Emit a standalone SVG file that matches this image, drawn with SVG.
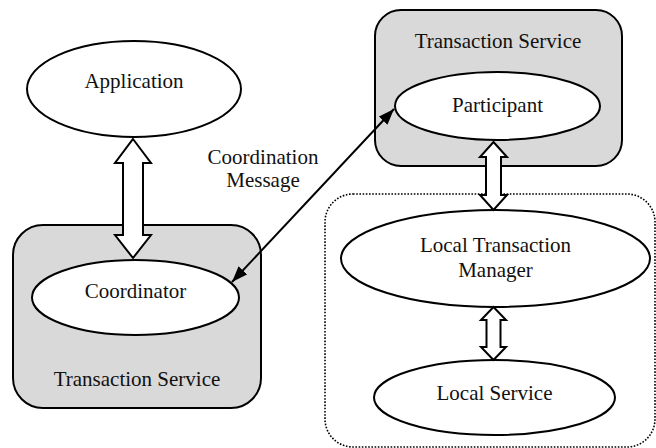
<svg xmlns="http://www.w3.org/2000/svg" width="656" height="448" viewBox="0 0 656 448">
<defs>
<style>
.box{fill:#d9d9d9;stroke:#000;stroke-width:2}
.ell{fill:#fff;stroke:#000;stroke-width:2}
.dbl{fill:#fff;stroke:#000;stroke-width:2;stroke-linejoin:miter}
.dot{fill:none;stroke:#000;stroke-width:1.6;stroke-dasharray:1.6 1.6}
.lbl{font-family:'Liberation Serif','Tinos','Times New Roman','DejaVu Serif',serif;font-size:21px;fill:#111;text-anchor:middle}
.conn{stroke:#000;stroke-width:2;fill:none}
</style>
<marker id="ah" viewBox="0 0 16 12" refX="16" refY="6" markerWidth="16" markerHeight="12" markerUnits="userSpaceOnUse" orient="auto-start-reverse">
<path d="M0,0 L16,6 L0,12 Z" fill="#000"/>
</marker>
</defs>
<g id="local-domain">
<rect class="dot" x="325" y="194" width="330" height="253" rx="28"/>
</g>
<g id="ts-left">
<rect class="box" x="13" y="225" width="248" height="183" rx="30"/>
<text class="lbl" x="137" y="386" font-family="Liberation Serif, serif">Transaction Service</text>
</g>
<g id="ts-right">
<rect class="box" x="375" y="10" width="247" height="156" rx="26"/>
<text class="lbl" x="498" y="48" font-family="Liberation Serif, serif">Transaction Service</text>
</g>
<g id="application">
<ellipse class="ell" cx="134" cy="89" rx="107" ry="48"/>
<text class="lbl" x="134" y="88" font-family="Liberation Serif, serif">Application</text>
</g>
<g id="coordinator">
<ellipse class="ell" cx="135.5" cy="297.5" rx="103.5" ry="37.5"/>
<text class="lbl" x="135.5" y="298" font-family="Liberation Serif, serif">Coordinator</text>
</g>
<g id="participant">
<ellipse class="ell" cx="497.5" cy="106" rx="102.5" ry="34"/>
<text class="lbl" x="497.5" y="112" font-family="Liberation Serif, serif">Participant</text>
</g>
<g id="local-tm">
<ellipse class="ell" cx="495.5" cy="258.5" rx="154.5" ry="48.5"/>
<text class="lbl" x="495.5" y="252" font-family="Liberation Serif, serif">Local Transaction</text>
<text class="lbl" x="495.5" y="277" font-family="Liberation Serif, serif">Manager</text>
</g>
<g id="local-service">
<ellipse class="ell" cx="494.5" cy="397.5" rx="120.5" ry="37.5"/>
<text class="lbl" x="494.5" y="400" font-family="Liberation Serif, serif">Local Service</text>
</g>
<g id="connectors">
<polygon class="dbl" points="133,139 151,163 143,163 143,235 151,235 133,258 115,235 123,235 123,163 115,163"/>
<polygon class="dbl" points="493.5,142 507,157 501,157 501,195 507,195 493.5,210 480,195 486,195 486,157 480,157"/>
<polygon class="dbl" points="493.5,307 506,320 500.5,320 500.5,347 506,347 493.5,360 481,347 486.5,347 486.5,320 481,320"/>
<line class="conn" x1="232" y1="282" x2="394" y2="109" marker-start="url(#ah)" marker-end="url(#ah)"/>
<text class="lbl" x="263" y="164" font-family="Liberation Serif, serif">Coordination</text>
<text class="lbl" x="263" y="187" font-family="Liberation Serif, serif">Message</text>
</g>
</svg>
